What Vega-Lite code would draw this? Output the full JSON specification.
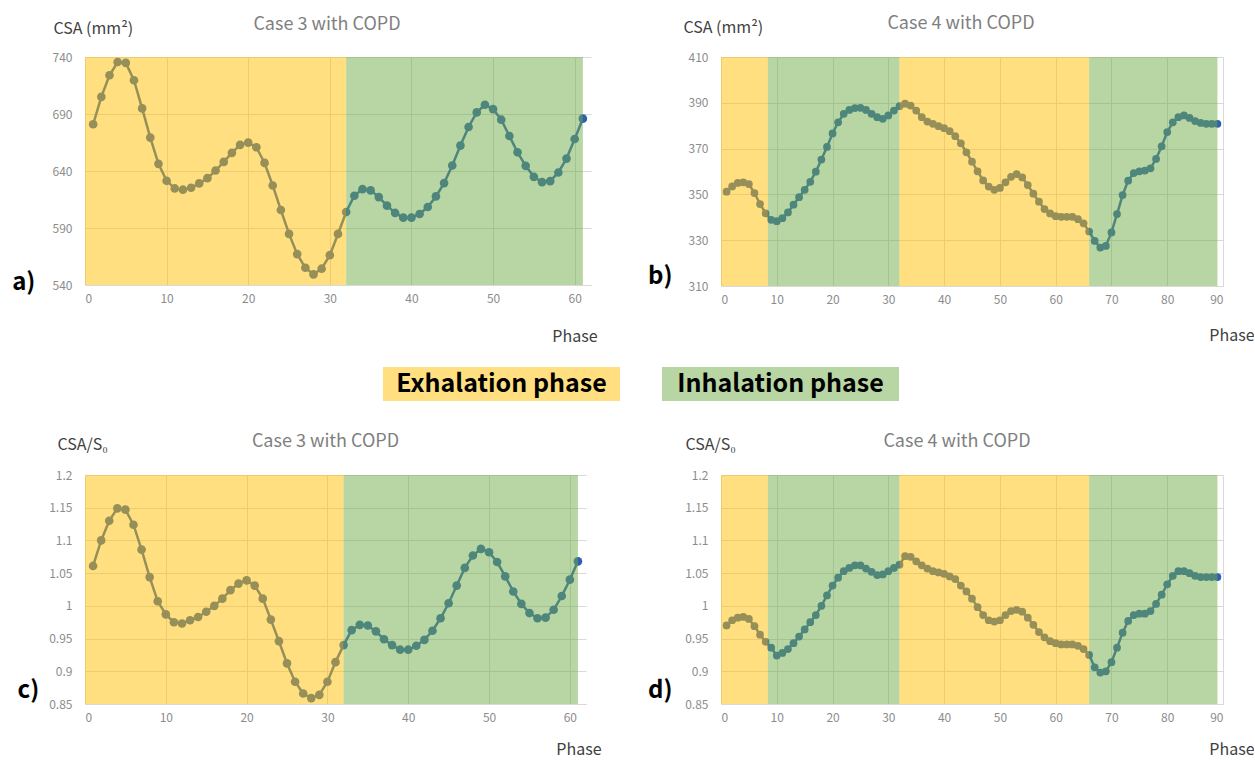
{
  "$schema": "https://vega.github.io/schema/vega-lite/v6.json",
  "padding": {"left": 12, "top": 15, "right": 0, "bottom": 3},
  "config": {
    "font": "Noto Sans CJK JP",
    "view": {"stroke": null},
    "axis": {"grid": true, "gridColor": "#d9d9d9", "ticks": false, "tickCount": 20, "labelColor": "#8c8c8c", "labelFontSize": 12, "labelOverlap": false, "titleFontWeight": "normal", "titleColor": "#404040", "titleFontSize": 16, "domainColor": "#d9d9d9"},
    "axisY": {"domain": false, "labelPadding": 13, "titleAngle": 0, "titleAlign": "left", "titleBaseline": "middle"},
    "axisX": {"labelPadding": 8, "titleAlign": "right", "titleBaseline": "middle", "labelAngle": 0},
    "title": {"color": "#7f7f7f", "fontSize": 18, "fontWeight": "normal", "anchor": "middle", "frame": "group", "baseline": "bottom"}
  },
  "datasets": {
    "case3": [
      {"phase":1,"csa":681,"ratio":1.061},{"phase":2,"csa":705,"ratio":1.100},{"phase":3,"csa":724,"ratio":1.130},{"phase":4,"csa":735.6,"ratio":1.149},{"phase":5,"csa":734.8,"ratio":1.147},
      {"phase":6,"csa":719.6,"ratio":1.124},{"phase":7,"csa":694.9,"ratio":1.086},{"phase":8,"csa":669.3,"ratio":1.044},{"phase":9,"csa":646.3,"ratio":1.007},{"phase":10,"csa":631.4,"ratio":0.987},
      {"phase":11,"csa":624.7,"ratio":0.975},{"phase":12,"csa":623.6,"ratio":0.973},{"phase":13,"csa":625.3,"ratio":0.978},{"phase":14,"csa":629.1,"ratio":0.983},{"phase":15,"csa":633.7,"ratio":0.991},
      {"phase":16,"csa":640.4,"ratio":1.000},{"phase":17,"csa":648,"ratio":1.011},{"phase":18,"csa":655.9,"ratio":1.024},{"phase":19,"csa":662.9,"ratio":1.034},{"phase":20,"csa":664.9,"ratio":1.039},
      {"phase":21,"csa":660.8,"ratio":1.031},{"phase":22,"csa":647.1,"ratio":1.011},{"phase":23,"csa":627.3,"ratio":0.979},{"phase":24,"csa":605.8,"ratio":0.946},{"phase":25,"csa":584.8,"ratio":0.912},
      {"phase":26,"csa":567.1,"ratio":0.884},{"phase":27,"csa":555.1,"ratio":0.866},{"phase":28,"csa":549.3,"ratio":0.859},{"phase":29,"csa":554.3,"ratio":0.864},{"phase":30,"csa":566.2,"ratio":0.884},
      {"phase":31,"csa":584.8,"ratio":0.914},{"phase":32,"csa":604,"ratio":0.940},{"phase":33,"csa":618.3,"ratio":0.963},{"phase":34,"csa":624.1,"ratio":0.971},{"phase":35,"csa":623,"ratio":0.970},
      {"phase":36,"csa":617.1,"ratio":0.961},{"phase":37,"csa":609.6,"ratio":0.949},{"phase":38,"csa":603.2,"ratio":0.940},{"phase":39,"csa":599.1,"ratio":0.933},{"phase":40,"csa":599.1,"ratio":0.933},
      {"phase":41,"csa":602.3,"ratio":0.939},{"phase":42,"csa":608.4,"ratio":0.948},{"phase":43,"csa":617.7,"ratio":0.962},{"phase":44,"csa":629.4,"ratio":0.981},{"phase":45,"csa":644.8,"ratio":1.004},
      {"phase":46,"csa":662.3,"ratio":1.031},{"phase":47,"csa":678.6,"ratio":1.058},{"phase":48,"csa":691.4,"ratio":1.077},{"phase":49,"csa":698.1,"ratio":1.087},{"phase":50,"csa":694.3,"ratio":1.082},
      {"phase":51,"csa":685,"ratio":1.067},{"phase":52,"csa":670.7,"ratio":1.045},{"phase":53,"csa":656.4,"ratio":1.022},{"phase":54,"csa":644.5,"ratio":1.003},{"phase":55,"csa":634.9,"ratio":0.989},
      {"phase":56,"csa":630.2,"ratio":0.981},{"phase":57,"csa":631.1,"ratio":0.982},{"phase":58,"csa":638.7,"ratio":0.994},{"phase":59,"csa":650.9,"ratio":1.015},{"phase":60,"csa":668.1,"ratio":1.040},
      {"phase":61,"csa":685.9,"ratio":1.068}
    ],
    "case4": [
      {"phase":1,"csa":351.2,"ratio":0.970},{"phase":2,"csa":353.5,"ratio":0.978},{"phase":3,"csa":355.0,"ratio":0.982},{"phase":4,"csa":355.3,"ratio":0.983},{"phase":5,"csa":354.5,"ratio":0.980},
      {"phase":6,"csa":350.6,"ratio":0.969},{"phase":7,"csa":345.8,"ratio":0.956},{"phase":8,"csa":341.7,"ratio":0.945},{"phase":9,"csa":338.9,"ratio":0.936},{"phase":10,"csa":338.3,"ratio":0.924},
      {"phase":11,"csa":339.6,"ratio":0.928},{"phase":12,"csa":342.1,"ratio":0.934},{"phase":13,"csa":345.5,"ratio":0.943},{"phase":14,"csa":348.8,"ratio":0.953},{"phase":15,"csa":352.0,"ratio":0.964},
      {"phase":16,"csa":355.5,"ratio":0.975},{"phase":17,"csa":359.9,"ratio":0.986},{"phase":18,"csa":365.2,"ratio":1.000},{"phase":19,"csa":370.7,"ratio":1.016},{"phase":20,"csa":376.6,"ratio":1.031},
      {"phase":21,"csa":381.5,"ratio":1.043},{"phase":22,"csa":385.2,"ratio":1.053},{"phase":23,"csa":386.9,"ratio":1.058},{"phase":24,"csa":387.7,"ratio":1.062},{"phase":25,"csa":387.8,"ratio":1.062},
      {"phase":26,"csa":386.9,"ratio":1.057},{"phase":27,"csa":385.2,"ratio":1.052},{"phase":28,"csa":383.7,"ratio":1.047},{"phase":29,"csa":383.0,"ratio":1.048},{"phase":30,"csa":384.5,"ratio":1.053},
      {"phase":31,"csa":386.6,"ratio":1.058},{"phase":32,"csa":388.5,"ratio":1.063},{"phase":33,"csa":389.6,"ratio":1.076},{"phase":34,"csa":388.8,"ratio":1.075},{"phase":35,"csa":386.6,"ratio":1.068},
      {"phase":36,"csa":383.7,"ratio":1.062},{"phase":37,"csa":381.8,"ratio":1.057},{"phase":38,"csa":380.8,"ratio":1.053},{"phase":39,"csa":379.8,"ratio":1.051},{"phase":40,"csa":378.9,"ratio":1.049},
      {"phase":41,"csa":377.6,"ratio":1.045},{"phase":42,"csa":375.4,"ratio":1.041},{"phase":43,"csa":372.3,"ratio":1.031},{"phase":44,"csa":368.4,"ratio":1.022},{"phase":45,"csa":364.3,"ratio":1.011},
      {"phase":46,"csa":360.1,"ratio":0.998},{"phase":47,"csa":356.1,"ratio":0.986},{"phase":48,"csa":353.4,"ratio":0.978},{"phase":49,"csa":352.0,"ratio":0.976},{"phase":50,"csa":352.8,"ratio":0.978},
      {"phase":51,"csa":355.3,"ratio":0.986},{"phase":52,"csa":357.7,"ratio":0.992},{"phase":53,"csa":358.9,"ratio":0.994},{"phase":54,"csa":357.4,"ratio":0.991},{"phase":55,"csa":354.1,"ratio":0.982},
      {"phase":56,"csa":350.3,"ratio":0.971},{"phase":57,"csa":346.8,"ratio":0.960},{"phase":58,"csa":343.6,"ratio":0.952},{"phase":59,"csa":341.7,"ratio":0.946},{"phase":60,"csa":340.5,"ratio":0.943},
      {"phase":61,"csa":340.2,"ratio":0.941},{"phase":62,"csa":340.2,"ratio":0.941},{"phase":63,"csa":340.2,"ratio":0.941},{"phase":64,"csa":339.2,"ratio":0.939},{"phase":65,"csa":337.4,"ratio":0.934},
      {"phase":66,"csa":333.8,"ratio":0.925},{"phase":67,"csa":329.7,"ratio":0.906},{"phase":68,"csa":326.8,"ratio":0.898},{"phase":69,"csa":327.5,"ratio":0.900},{"phase":70,"csa":333.4,"ratio":0.914},
      {"phase":71,"csa":341.4,"ratio":0.936},{"phase":72,"csa":349.7,"ratio":0.959},{"phase":73,"csa":356.0,"ratio":0.977},{"phase":74,"csa":359.3,"ratio":0.986},{"phase":75,"csa":360.1,"ratio":0.988},
      {"phase":76,"csa":360.4,"ratio":0.988},{"phase":77,"csa":361.4,"ratio":0.992},{"phase":78,"csa":365.5,"ratio":1.003},{"phase":79,"csa":371.0,"ratio":1.017},{"phase":80,"csa":377.2,"ratio":1.033},
      {"phase":81,"csa":381.5,"ratio":1.046},{"phase":82,"csa":383.7,"ratio":1.053},{"phase":83,"csa":384.5,"ratio":1.053},{"phase":84,"csa":383.4,"ratio":1.050},{"phase":85,"csa":382.0,"ratio":1.046},
      {"phase":86,"csa":381.2,"ratio":1.044},{"phase":87,"csa":380.8,"ratio":1.044},{"phase":88,"csa":380.8,"ratio":1.044},{"phase":89,"csa":380.8,"ratio":1.044}
    ],
    "bands3": [
      {"start":0,"end":32,"phase":"Exhalation"},
      {"start":32,"end":61,"phase":"Inhalation"}
    ],
    "bands4": [
      {"start":0,"end":8.4,"phase":"Exhalation"},
      {"start":8.4,"end":32,"phase":"Inhalation"},
      {"start":32,"end":66,"phase":"Exhalation"},
      {"start":66,"end":89,"phase":"Inhalation"}
    ]
  },
  "spacing": 23,
  "vconcat": [
    {
      "spacing": 50,
      "hconcat": [
        {
          "width": 506, "height": 228,
          "title": {"text": "Case 3 with COPD", "dx": -11, "offset": -14},
          "layer": [
            {"data": {"name": "case3"},
             "mark": {"type": "line", "color": "#2E5FB0", "strokeWidth": 2.5, "point": {"filled": true, "size": 75, "color": "#2E5FB0"}},
             "encoding": {
               "x": {"field": "phase", "type": "quantitative", "scale": {"domain": [0, 62], "nice": false, "zero": false}, "axis": {"values": [0,10,20,30,40,50,60], "title": "Phase", "titleX": 512, "titleY": 51}},
               "y": {"field": "csa", "type": "quantitative", "scale": {"domain": [540, 740], "nice": false, "zero": false}, "axis": {"values": [540,590,640,690,740], "title": "CSA (mm²)", "titleX": -32, "titleY": -29}}
             }},
            {"data": {"name": "bands3"},
             "mark": {"type": "rect", "opacity": 0.5},
             "encoding": {"x": {"field": "start", "type": "quantitative"}, "x2": {"field": "end"},
               "color": {"field": "phase", "type": "nominal", "scale": {"domain": ["Exhalation","Inhalation"], "range": ["#FFC000","#70AD47"]}, "legend": null}}},
            {"data": {"values": [{"label": "a)"}]},
             "mark": {"type": "text", "fontSize": 24, "fontWeight": "bold", "color": "#000000", "align": "center", "baseline": "middle"},
             "encoding": {"x": {"datum": -7.5}, "y": {"datum": 541.8}, "text": {"field": "label"}}}
          ]
        },
        {
          "width": 502, "height": 229,
          "title": {"text": "Case 4 with COPD", "dx": -11, "offset": -14},
          "layer": [
            {"data": {"name": "case4"},
             "mark": {"type": "line", "color": "#2E5FB0", "strokeWidth": 2.5, "point": {"filled": true, "size": 60, "color": "#2E5FB0"}},
             "encoding": {
               "x": {"field": "phase", "type": "quantitative", "scale": {"domain": [0, 90], "nice": false, "zero": false}, "axis": {"values": [0,10,20,30,40,50,60,70,80,90], "title": "Phase", "titleX": 533, "titleY": 49}},
               "y": {"field": "csa", "type": "quantitative", "scale": {"domain": [310, 410], "nice": false, "zero": false}, "axis": {"values": [310,330,350,370,390,410], "title": "CSA (mm²)", "titleX": -38, "titleY": -30}}
             }},
            {"data": {"name": "bands4"},
             "mark": {"type": "rect", "opacity": 0.5},
             "encoding": {"x": {"field": "start", "type": "quantitative"}, "x2": {"field": "end"},
               "color": {"field": "phase", "type": "nominal", "legend": null}}},
            {"data": {"values": [{"label": "b)"}]},
             "mark": {"type": "text", "fontSize": 24, "fontWeight": "bold", "color": "#000000", "align": "center", "baseline": "middle"},
             "encoding": {"x": {"datum": -10.9}, "y": {"datum": 313.9}, "text": {"field": "label"}}}
          ]
        }
      ]
    },
    {
      "width": 814, "height": 43,
      "data": {"values": [{"phase": "Exhalation", "label": "Exhalation phase"}, {"phase": "Inhalation", "label": "Inhalation phase"}]},
      "encoding": {
        "x": {"field": "label", "type": "nominal", "axis": null, "scale": {"paddingInner": 0.1505, "paddingOuter": 0.534, "align": 1}},
        "y": {"datum": "legend", "type": "nominal", "axis": null, "scale": {"paddingInner": 0, "paddingOuter": 0.1324, "align": 0}}
      },
      "layer": [
        {"mark": {"type": "rect", "opacity": 0.5},
         "encoding": {"color": {"field": "phase", "type": "nominal", "legend": null}}},
        {"mark": {"type": "text", "fontSize": 25, "fontWeight": "bold", "color": "#000000"},
         "encoding": {"text": {"field": "label"}}}
      ]
    },
    {
      "spacing": 46,
      "hconcat": [
        {
          "width": 501, "height": 229,
          "title": {"text": "Case 3 with COPD", "dx": -10, "offset": -15},
          "layer": [
            {"data": {"name": "case3"},
             "mark": {"type": "line", "color": "#2E5FB0", "strokeWidth": 2.5, "point": {"filled": true, "size": 75, "color": "#2E5FB0"}},
             "encoding": {
               "x": {"field": "phase", "type": "quantitative", "scale": {"domain": [0, 62], "nice": false, "zero": false}, "axis": {"values": [0,10,20,30,40,50,60], "title": "Phase", "titleX": 516, "titleY": 45}},
               "y": {"field": "ratio", "type": "quantitative", "scale": {"domain": [0.85, 1.2], "nice": false, "zero": false}, "axis": {"values": [0.85,0.9,0.95,1,1.05,1.1,1.15,1.2], "format": "~g", "tickCount": 20, "title": "CSA/S₀", "titleX": -28, "titleY": -31}}
             }},
            {"data": {"name": "bands3"},
             "mark": {"type": "rect", "opacity": 0.5},
             "encoding": {"x": {"field": "start", "type": "quantitative"}, "x2": {"field": "end"},
               "color": {"field": "phase", "type": "nominal", "legend": null}}},
            {"data": {"values": [{"label": "c)"}]},
             "mark": {"type": "text", "fontSize": 24, "fontWeight": "bold", "color": "#000000", "align": "center", "baseline": "middle"},
             "encoding": {"x": {"datum": -7.0}, "y": {"datum": 0.870}, "text": {"field": "label"}}}
          ]
        },
        {
          "width": 502, "height": 229,
          "title": {"text": "Case 4 with COPD", "dx": -15, "offset": -15},
          "layer": [
            {"data": {"name": "case4"},
             "mark": {"type": "line", "color": "#2E5FB0", "strokeWidth": 2.5, "point": {"filled": true, "size": 60, "color": "#2E5FB0"}},
             "encoding": {
               "x": {"field": "phase", "type": "quantitative", "scale": {"domain": [0, 90], "nice": false, "zero": false}, "axis": {"values": [0,10,20,30,40,50,60,70,80,90], "title": "Phase", "titleX": 533, "titleY": 45}},
               "y": {"field": "ratio", "type": "quantitative", "scale": {"domain": [0.85, 1.2], "nice": false, "zero": false}, "axis": {"values": [0.85,0.9,0.95,1,1.05,1.1,1.15,1.2], "format": "~g", "tickCount": 20, "title": "CSA/S₀", "titleX": -36, "titleY": -31}}
             }},
            {"data": {"name": "bands4"},
             "mark": {"type": "rect", "opacity": 0.5},
             "encoding": {"x": {"field": "start", "type": "quantitative"}, "x2": {"field": "end"},
               "color": {"field": "phase", "type": "nominal", "legend": null}}},
            {"data": {"values": [{"label": "d)"}]},
             "mark": {"type": "text", "fontSize": 24, "fontWeight": "bold", "color": "#000000", "align": "center", "baseline": "middle"},
             "encoding": {"x": {"datum": -10.9}, "y": {"datum": 0.870}, "text": {"field": "label"}}}
          ]
        }
      ]
    }
  ]
}
